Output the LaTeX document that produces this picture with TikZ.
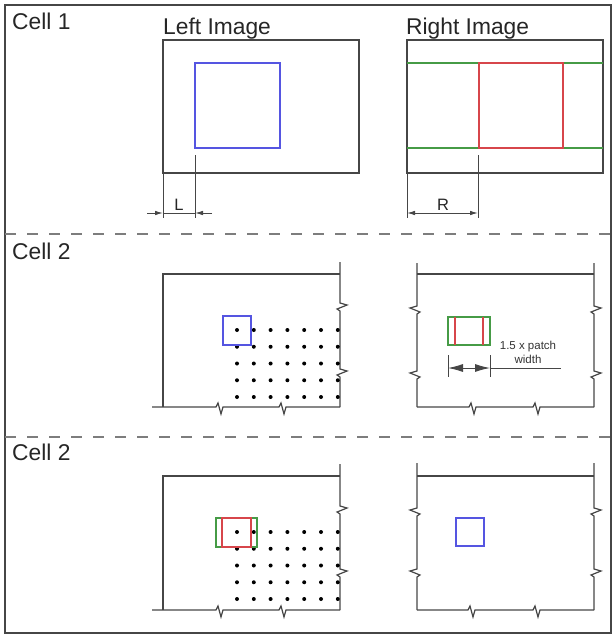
\documentclass[tikz,border=0pt]{standalone}
\usepackage{fontspec}
\setmainfont{Liberation Sans}
\usetikzlibrary{arrows.meta}
\definecolor{linegray}{RGB}{70,70,70}
\definecolor{dashgray}{RGB}{125,125,125}
\definecolor{patchblue}{RGB}{85,85,225}
\definecolor{patchred}{RGB}{215,70,75}
\definecolor{patchgreen}{RGB}{70,155,70}
% break (zigzag) symbols inserted into a path
\newcommand\zzH[2]{-- ({#1-4},#2) -- ({#1-2},{#2-4}) -- ({#1+1},{#2+7}) -- ({#1+3},#2)}
\newcommand\zzR[2]{-- (#1,{#2-4}) -- ({#1+7},{#2-2}) -- ({#1-3},{#2+2}) -- (#1,{#2+4})}
\newcommand\zzL[2]{-- (#1,{#2-4}) -- ({#1-7},{#2-2}) -- ({#1+3},{#2+2}) -- (#1,{#2+4})}
\tikzset{
  frameline/.style={draw=linegray,line width=1.2pt,line join=miter},
  cellsep/.style={draw=dashgray,line width=1.5pt,dash pattern=on 11pt off 11pt},
  bluepatch/.style={draw=patchblue,line width=1.1pt},
  redpatch/.style={draw=patchred,line width=1.1pt},
  greenpatch/.style={draw=patchgreen,line width=1.1pt},
  title/.style={font=\fontsize{22.8}{26}\selectfont,text=black!85,inner sep=0pt,anchor=base west},
  dimlabel/.style={font=\fontsize{16.5}{18}\selectfont,text=black!85,inner sep=0pt,anchor=base},
  smalllabel/.style={font=\fontsize{11.5}{14}\selectfont,text=black!80,align=center,inner sep=0pt},
  dimline/.style={draw=linegray,line width=0.9pt},
  smalltip/.style={-{Latex[length=8pt,width=4.5pt]}},
  bigtip/.style={{Latex[length=15pt,width=8pt]}-{Latex[length=15pt,width=8pt]}},
  dot/.style={circle,fill=black,inner sep=0pt,minimum size=4pt}
}
\begin{document}
\begin{tikzpicture}[x=1pt,y=-1pt]
\useasboundingbox (0,0) rectangle (613,637);
% outer frame and cell separators
\draw[draw=linegray,line width=1.1pt] (5,5) rectangle (611,633);
\coordinate (sepA1) at (5,234);  \coordinate (sepA2) at (611,234);
\coordinate (sepB1) at (5,437);  \coordinate (sepB2) at (611,437);
\draw[cellsep] (sepA1) -- (sepA2);
\draw[cellsep] (sepB1) -- (sepB2);

% ---------------- cell 1 ----------------
\node[title] (cellone) at (12,29) {Cell 1};
\node[title] (lefttitle) at (163,34) {Left Image};
\node[title] (righttitle) at (406,34) {Right Image};
\draw[frameline] (163,40) coordinate (limgNW) rectangle (359,173) coordinate (limgSE);
\draw[frameline] (407,40) coordinate (rimgNW) rectangle (603,173) coordinate (rimgSE);
\draw[bluepatch] (195,63) coordinate (lpatch) rectangle (280,148);
\draw[greenpatch] (407,63) -- (603,63) (407,148) -- (603,148);
\draw[redpatch] (479,63) coordinate (rpatch) rectangle (563,148);
% L dimension
\coordinate (lA) at (163,213); \coordinate (lB) at (195,213);
\coordinate (lAout) at (147,213); \coordinate (lBout) at (212,213);
\draw[dimline] (163,173) -- (163,218);
\draw[dimline] (195,155) -- (195,218);
\draw[dimline] (lA) -- (lB);
\draw[dimline,smalltip] (lAout) -- (lA);
\draw[dimline,smalltip] (lBout) -- (lB);
\node[dimlabel] (lbl) at (179,210) {L};
% R dimension
\coordinate (rA) at (407,213); \coordinate (rB) at (478,213);
\draw[dimline] (407,173) -- (407,218);
\draw[dimline] (478,155) -- (478,218);
\draw[dimline,{Latex[length=8pt,width=4.5pt]}-{Latex[length=8pt,width=4.5pt]}] (rA) -- (rB);
\node[dimlabel] (rbl) at (443,210) {R};

% ---------------- cell 2 ----------------
\node[title] (celltwo) at (12,259) {Cell 2};
% left image (cropped)
\draw[frameline] (163,407) -- (163,274) -- (340,274);
\draw[frameline] (340,262) \zzR{340}{307} \zzR{340}{373} -- (340,407);
\draw[frameline] (152,407) \zzH{220}{407} \zzH{283}{407} -- (340,407);
% right image (cropped)
\draw[frameline] (417,274) -- (594,274);
\draw[frameline] (417,263) \zzL{417}{310} \zzL{417}{375} -- (417,407);
\draw[frameline] (594,263) \zzR{594}{310} \zzR{594}{375} -- (594,407);
\draw[frameline] (417,407) \zzH{473}{407} \zzH{537}{407} -- (594,407);
% sample grid
\foreach \i in {0,...,6}
  \foreach \j in {0,...,4}
    \node[dot] (gA-\i-\j) at ({237+16.8*\i},{330+16.75*\j}) {};
\draw[bluepatch] (223,316) rectangle (251,345);
% search window and its dimension
\draw[greenpatch] (448,317) rectangle (490,345);
\draw[redpatch] (455,317) -- (455,345) (483,317) -- (483,345);
\coordinate (wA) at (448,368); \coordinate (wB) at (490,368); \coordinate (wEnd) at (561,368);
\draw[dimline] (448,355) -- (448,377);
\draw[dimline] (490,355) -- (490,377);
\draw[dimline,bigtip] (wA) -- (wB);
\draw[dimline] (wB) -- (wEnd);
\node[smalllabel] (wlbl) at (528,352) {1.5 x patch\\width};

% ---------------- cell 3 ----------------
\node[title] (cellthree) at (12,460) {Cell 2};
% left image (cropped)
\draw[frameline] (163,610) -- (163,476) -- (340,476);
\draw[frameline] (340,464) \zzR{340}{510} \zzR{340}{573} -- (340,610);
\draw[frameline] (152,610) \zzH{220}{610} \zzH{283}{610} -- (340,610);
% right image (cropped)
\draw[frameline] (417,476) -- (594,476);
\draw[frameline] (417,463) \zzL{417}{512} \zzL{417}{573} -- (417,610);
\draw[frameline] (594,463) \zzR{594}{512} \zzR{594}{573} -- (594,610);
\draw[frameline] (417,610) \zzH{472}{610} \zzH{537}{610} -- (594,610);
% sample grid
\foreach \i in {0,...,6}
  \foreach \j in {0,...,4}
    \node[dot] (gB-\i-\j) at ({237+16.8*\i},{532+16.75*\j}) {};
\draw[greenpatch] (216,518) rectangle (257,547);
\draw[redpatch] (222,518) rectangle (251,547);
\draw[bluepatch] (456,518) rectangle (484,546);
\end{tikzpicture}
\end{document}
